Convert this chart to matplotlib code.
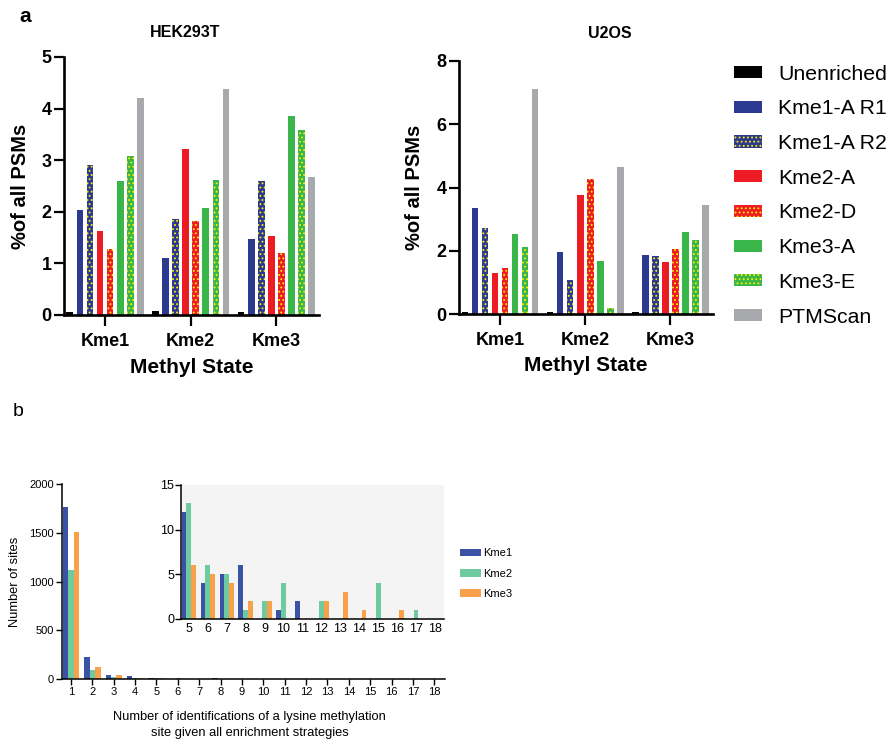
import numpy as np
import matplotlib
matplotlib.use("Agg")
import matplotlib.pyplot as plt
from matplotlib.patches import Patch

plt.rcParams['font.family'] = ['Liberation Sans', 'DejaVu Sans']
plt.rcParams['hatch.linewidth'] = 0.8

# ----------------- data, panel a --------------------
methyl_states = ["Kme1", "Kme2", "Kme3"]
strategies = ["Unenriched", "Kme1-A R1", "Kme1-A R2", "Kme2-A",
              "Kme2-D", "Kme3-A", "Kme3-E", "PTMScan"]

# rows = strategies, columns = Kme1, Kme2, Kme3
hek293t = [
    [0.06, 0.08, 0.06],
    [2.04, 1.11, 1.47],
    [2.91, 1.86, 2.59],
    [1.63, 3.21, 1.54],
    [1.28, 1.82, 1.21],
    [2.59, 2.08, 3.85],
    [3.09, 2.61, 3.59],
    [4.20, 4.37, 2.67],
]
u2os = [
    [0.05, 0.07, 0.06],
    [3.36, 1.97, 1.86],
    [2.73, 1.06, 1.85],
    [1.31, 3.75, 1.66],
    [1.45, 4.26, 2.06],
    [2.52, 1.68, 2.58],
    [2.12, 0.20, 2.35],
    [7.12, 4.64, 3.45],
]

# ----------------- data, panel b --------------------
n_ident = list(range(1, 19))
kme1_sites = [1760, 222, 41, 34, 12, 4, 5, 6, 0, 1, 2, 0, 0, 0, 0, 0, 0, 0]
kme2_sites = [1115, 92, 24, 14, 13, 6, 5, 1, 2, 4, 0, 2, 0, 0, 4, 0, 1, 0]
kme3_sites = [1512, 121, 41, 10, 6, 5, 4, 2, 2, 0, 0, 2, 3, 1, 0, 1, 0, 0]

# ----------------- styles --------------------
blue = "#2b3990"
red = "#ed1c24"
green = "#39b54a"
grey = "#a7a9ac"
dots = "#fff200"
styles = [
    ("black", None),
    (blue, None),
    (blue, "...."),
    (red, None),
    (red, "...."),
    (green, None),
    (green, "...."),
    (grey, None),
]
b_colors = ["#3a53a4", "#6ecba0", "#f9a04a"]

fig = plt.figure(figsize=(8.91, 7.42), dpi=100)
fig.patch.set_facecolor("white")


def plot_psm_panel(ax, values, ymax, title, title_x, title_y, ylab_x):
    pitch = 0.1176
    width = 0.078
    x = np.arange(len(methyl_states))
    for i, (vals, (col, hatch)) in enumerate(zip(values, styles)):
        ax.bar(x + (i - 3.5) * pitch, vals, width=width, color=col,
               edgecolor=dots if hatch else col, linewidth=0, hatch=hatch)
    ax.set_xlim(-0.48, 2.50)
    ax.set_ylim(0, ymax)
    ax.set_xticks(x)
    ax.set_xticklabels(methyl_states)
    for s in ["top", "right"]:
        ax.spines[s].set_visible(False)
    for s in ["left", "bottom"]:
        ax.spines[s].set_linewidth(1.9)
    ax.tick_params(axis="both", width=1.6, labelsize=13)
    ax.tick_params(axis="y", length=7, pad=2)
    ax.tick_params(axis="x", length=8, pad=5)
    for lab in ax.get_xticklabels() + ax.get_yticklabels():
        lab.set_fontweight("bold")
    ax.set_xlabel("Methyl State", fontsize=15, fontweight="bold")
    ax.xaxis.set_label_coords(0.5, -0.165)
    ax.set_ylabel("%of all PSMs", fontsize=14.5, fontweight="bold")
    ax.yaxis.set_label_coords(ylab_x, 0.5)
    ax.text(title_x, title_y, title, transform=ax.transAxes, ha="center",
            va="center", fontsize=11.5, fontweight="bold")


ax1 = fig.add_axes([0.0718, 0.5755, 0.2864, 0.3477])
plot_psm_panel(ax1, hek293t, 5, "HEK293T", 0.475, 1.093, -0.135)
ax1.set_yticks(range(0, 6))

ax2 = fig.add_axes([0.5152, 0.5768, 0.2851, 0.3410])
plot_psm_panel(ax2, u2os, 8, "U2OS", 0.594, 1.11, -0.138)
ax2.set_yticks(range(0, 9, 2))

handles = [Patch(facecolor=c, edgecolor=dots if h else c, hatch=h, linewidth=0)
           for c, h in styles]
fig.legend(handles, strategies, loc="upper left", bbox_to_anchor=(0.824, 0.913),
           frameon=False, fontsize=15.3, handlelength=1.33, handleheight=0.5,
           handletextpad=0.75, labelspacing=0.74, borderpad=0, borderaxespad=0)

fig.text(0.022, 0.978, "a", fontsize=15, fontweight="bold", ha="left", va="center")
fig.text(0.014, 0.445, "b", fontsize=14, ha="left", va="center")

# ----------------- panel b --------------------
bw = 0.255
xb = np.array(n_ident)
ax3 = fig.add_axes([0.0696, 0.0849, 0.4298, 0.2628])
for j, (vals, col, lab) in enumerate(zip([kme1_sites, kme2_sites, kme3_sites],
                                         b_colors, ["Kme1", "Kme2", "Kme3"])):
    ax3.bar(xb + (j - 1) * bw, vals, width=bw, color=col, linewidth=0, label=lab)
ax3.set_xlim(0.58, 18.5)
ax3.set_ylim(0, 2000)
ax3.set_xticks(xb)
ax3.set_yticks(range(0, 2001, 500))
for s in ["top", "right"]:
    ax3.spines[s].set_visible(False)
for s in ["left", "bottom"]:
    ax3.spines[s].set_linewidth(1.1)
ax3.tick_params(axis="both", labelsize=8, width=1, length=4, pad=2)
ax3.set_ylabel("Number of sites", fontsize=9.3)
ax3.yaxis.set_label_coords(-0.108, 0.5)
ax3.set_xlabel("Number of identifications of a lysine methylation\n"
               "site given all enrichment strategies", fontsize=9.3, linespacing=1.45)
ax3.xaxis.set_label_coords(0.49, -0.163)
ax3.legend(loc="upper left", bbox_to_anchor=(1.04, 0.67), frameon=False,
           fontsize=8, handlelength=1.9, handleheight=0.7, handletextpad=0.2,
           labelspacing=0.92, borderpad=0, borderaxespad=0)

# inset: 5 to 18 identifications
ax4 = fig.add_axes([0.2031, 0.1658, 0.2952, 0.1806])
ins = slice(4, 18)
for j, (vals, col) in enumerate(zip([kme1_sites, kme2_sites, kme3_sites], b_colors)):
    ax4.bar(xb[ins] + (j - 1) * bw, vals[ins], width=bw, color=col, linewidth=0)
ax4.set_facecolor("#f4f4f4")
ax4.set_xlim(4.58, 18.48)
ax4.set_ylim(0, 15)
ax4.set_xticks(xb[ins])
ax4.set_yticks(range(0, 16, 5))
for s in ["top", "right"]:
    ax4.spines[s].set_visible(False)
for s in ["left", "bottom"]:
    ax4.spines[s].set_linewidth(1.1)
ax4.tick_params(axis="y", labelsize=9, width=1, length=4, pad=1)
ax4.tick_params(axis="x", labelsize=9, length=0, pad=3)

plt.savefig("out.png", dpi=100, facecolor=fig.get_facecolor())
